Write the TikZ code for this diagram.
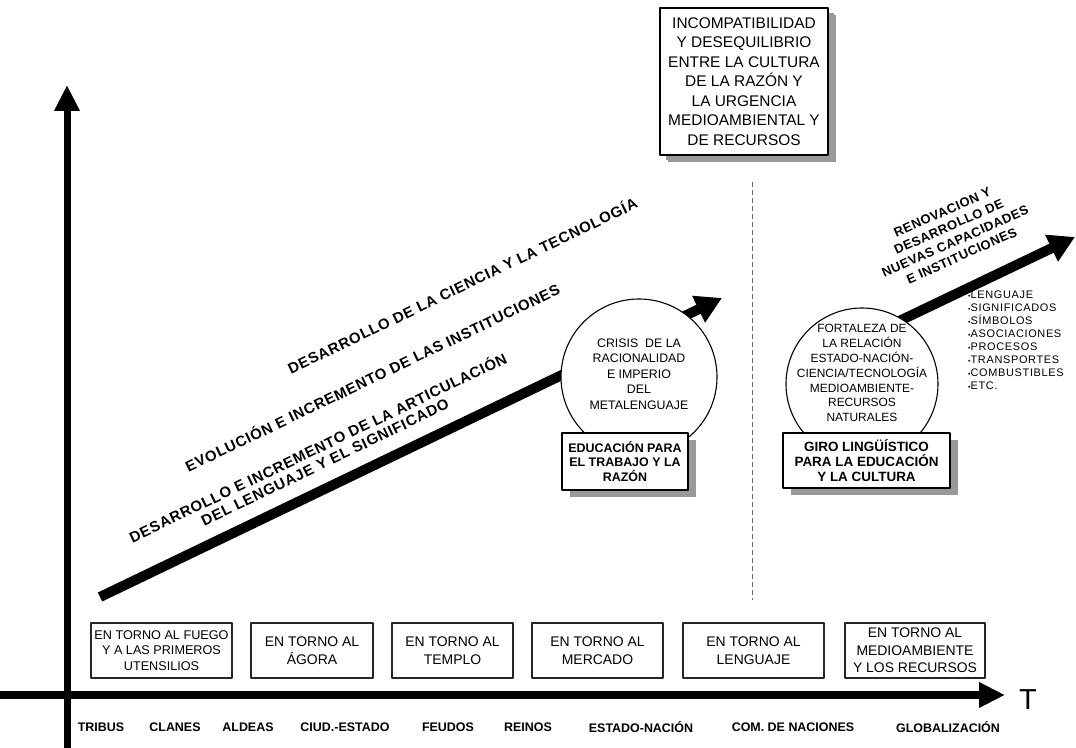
\documentclass[tikz,border=0pt]{standalone}
\usepackage{fontspec}
\setmainfont{Liberation Sans}
\usetikzlibrary{arrows.meta,shadows}

\begin{document}
\begin{tikzpicture}[>=latex,line join=bevel,
  era/.style={draw=black!85,line width=1.2bp,minimum height=55bp,inner sep=0pt,align=center,font=\fontsize{14}{17.5}\selectfont},
  phase/.style={draw=black,line width=1.2bp,fill=white,align=center,inner sep=0pt,drop shadow={shadow xshift=8bp,shadow yshift=-7bp,fill=black!40,opacity=1}},
  bubble/.style={circle,draw=black,line width=1.1bp,fill=white,inner sep=0pt},
  bubbletxt/.style={align=center,inner sep=0pt,font=\fontsize{12.4}{15.5}\selectfont},
  trend/.style={rotate=#1,align=center,inner sep=0pt,font=\bfseries\fontsize{15}{16}\selectfont\addfontfeature{LetterSpace=5}},
  trend/.default=25.7,
  epoch/.style={inner sep=0pt,font=\bfseries\fontsize{12.5}{14}\selectfont},
  axis/.style={line width=8bp,-{Triangle[length=26bp,width=24bp]}},
  growth/.style={line width=10bp,-{Triangle[length=26bp,width=28bp]}},
]
%%
\useasboundingbox (0bp,0bp) rectangle (1076bp,748bp);
  \coordinate (t_start) at (0bp,53bp);
  \coordinate (t_end) at (1005bp,53bp);
  \coordinate (v_start) at (67bp,0bp);
  \coordinate (v_end) at (67bp,663bp);
  \draw [axis] (t_start) -- (t_end);
  \draw [axis,line width=7bp] (v_start) -- (v_end);
  \node (node_T) at (1028bp,48bp) [inner sep=0pt,font=\fontsize{29}{30}\selectfont] {T};
%
  \node (node_tribus) at (101bp,21bp) [epoch] {TRIBUS};
  \node (node_clanes) at (175bp,21bp) [epoch] {CLANES};
  \node (node_aldeas) at (248bp,21bp) [epoch] {ALDEAS};
  \node (node_ciud) at (345bp,21bp) [epoch] {CIUD.-ESTADO};
  \node (node_feudos) at (448bp,21bp) [epoch] {FEUDOS};
  \node (node_reinos) at (528bp,21bp) [epoch] {REINOS};
  \node (node_estado) at (641bp,21bp) [epoch] {ESTADO-NACIÓN};
  \node (node_com) at (793bp,21bp) [epoch] {COM. DE NACIONES};
  \node (node_glob) at (948bp,21bp) [epoch] {GLOBALIZACIÓN};
%
  \node (node_fuego) at (161.5bp,97.5bp) [era,minimum width=141bp,font=\fontsize{12.7}{15.5}\selectfont] {EN TORNO AL FUEGO\\Y A LAS PRIMEROS\\UTENSILIOS};
  \node (node_agora) at (312bp,97.5bp) [era,minimum width=122bp] {EN TORNO AL\\ÁGORA};
  \node (node_templo) at (452.5bp,97.5bp) [era,minimum width=121bp] {EN TORNO AL\\TEMPLO};
  \node (node_mercado) at (597.5bp,97.5bp) [era,minimum width=131bp] {EN TORNO AL\\MERCADO};
  \node (node_lenguaje) at (753.5bp,97.5bp) [era,minimum width=141bp] {EN TORNO AL\\LENGUAJE};
  \node (node_medio) at (915bp,97.5bp) [era,minimum width=140bp] {EN TORNO AL\\MEDIOAMBIENTE\\Y LOS RECURSOS};
%
  \node (node_incomp) at (744bp,666.5bp) [phase,minimum width=168bp,minimum height=147bp,drop shadow={shadow xshift=6bp,shadow yshift=-5bp,fill=black!40,opacity=1},font=\fontsize{15.5}{19.6}\selectfont] {INCOMPATIBILIDAD\\Y DESEQUILIBRIO\\ENTRE LA CULTURA\\DE LA RAZÓN Y\\LA URGENCIA\\MEDIOAMBIENTAL Y\\DE RECURSOS};
  \coordinate (div_top) at (752bp,566bp);
  \coordinate (div_bot) at (752bp,148bp);
  \draw [black!60,line width=1bp,dash pattern=on 5bp off 3bp] (div_top) -- (div_bot);
%
  \coordinate (g1_start) at (100bp,151bp);
  \coordinate (g1_end) at (722bp,450bp);
  \coordinate (g2_start) at (870bp,413bp);
  \coordinate (g2_end) at (1075bp,511bp);
  \draw [growth] (g1_start) -- (g1_end);
  \draw [growth] (g2_start) -- (g2_end);
%
  \node (node_crisis) at (639bp,371bp) [bubble,minimum size=156bp] {};
  \node (node_crisis_txt) at (639bp,374bp) [bubbletxt] {CRISIS \ DE LA\\RACIONALIDAD\\E IMPERIO\\DEL\\METALENGUAJE};
  \node (node_fortaleza) at (862bp,364bp) [bubble,minimum size=152bp] {};
  \node (node_fortaleza_txt) at (862bp,375bp) [bubbletxt,font=\fontsize{12}{15}\selectfont] {FORTALEZA DE\\LA RELACIÓN\\ESTADO-NACIÓN-\\CIENCIA/TECNOLOGÍA\\MEDIOAMBIENTE-\\RECURSOS\\NATURALES};
  \node (node_educ) at (625bp,286.5bp) [phase,minimum width=126bp,minimum height=57bp,font=\bfseries\fontsize{12.5}{15}\selectfont] {EDUCACIÓN PARA\\EL TRABAJO Y LA\\RAZÓN};
  \node (node_giro) at (866.5bp,287.5bp) [phase,minimum width=167bp,minimum height=55bp,font=\bfseries\fontsize{13.5}{15}\selectfont] {GIRO LINGÜÍSTICO\\PARA LA EDUCACIÓN\\Y LA CULTURA};
%
  \node (node_ciencia) at (462bp,463bp) [trend] {DESARROLLO DE LA CIENCIA Y LA TECNOLOGÍA};
  \node (node_instit) at (372bp,371bp) [trend] {EVOLUCIÓN E INCREMENTO DE LAS INSTITUCIONES};
  \node (node_articul) at (321bp,294bp) [trend] {DESARROLLO E INCREMENTO DE LA ARTICULACIÓN\\DEL LENGUAJE Y EL SIGNIFICADO};
  \node (node_renov) at (952bp,514bp) [trend=24,font=\bfseries\fontsize{13}{16}\selectfont\addfontfeature{LetterSpace=4}] {RENOVACION Y\\DESARROLLO DE\\NUEVAS CAPACIDADES\\E INSTITUCIONES};
  \node (node_lista) at (968bp,457bp) [anchor=north west,align=left,inner sep=0pt,font=\fontsize{11}{13}\selectfont\addfontfeature{LetterSpace=6}] {{\fontsize{7}{7}\selectfont\textbullet}LENGUAJE\\{\fontsize{7}{7}\selectfont\textbullet}SIGNIFICADOS\\{\fontsize{7}{7}\selectfont\textbullet}SÍMBOLOS\\{\fontsize{7}{7}\selectfont\textbullet}ASOCIACIONES\\{\fontsize{7}{7}\selectfont\textbullet}PROCESOS\\{\fontsize{7}{7}\selectfont\textbullet}TRANSPORTES\\{\fontsize{7}{7}\selectfont\textbullet}COMBUSTIBLES\\{\fontsize{7}{7}\selectfont\textbullet}ETC.};
%
\end{tikzpicture}
\end{document}
